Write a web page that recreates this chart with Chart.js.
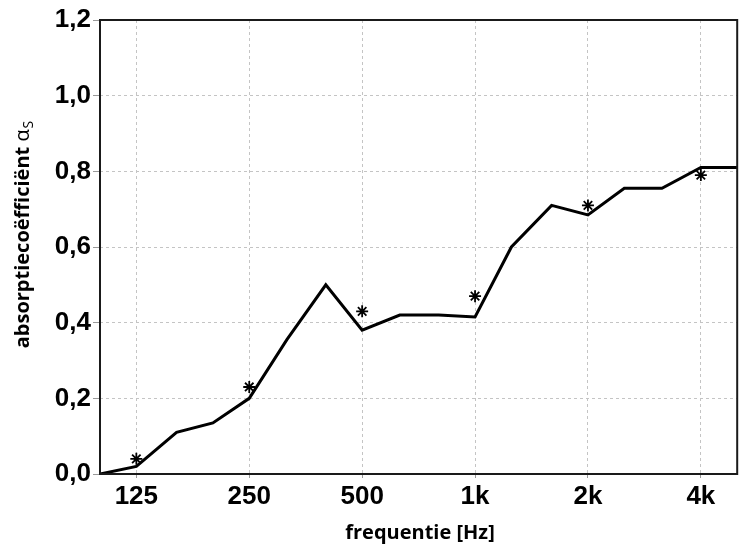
<!DOCTYPE html>
<html>
<head>
<meta charset="utf-8">
<script src="https://cdn.jsdelivr.net/npm/chart.js@4/dist/chart.umd.min.js"></script>
<style>
  html, body { margin: 0; padding: 0; background: #fff; }
  #wrap { width: 745px; height: 548px; }
</style>
</head>
<body>
<div id="wrap"><canvas id="c" width="745" height="548"></canvas></div>
<script>
// third-octave band centre frequencies (Hz) and measured absorption
const thirdOctaveFreqs = [100, 125, 160, 200, 250, 315, 400, 500, 630, 800, 1000, 1250, 1600, 2000, 2500, 3150, 4000, 5000];
const thirdOctaveAlpha = [0.00, 0.02, 0.11, 0.135, 0.20, 0.355, 0.50, 0.38, 0.42, 0.42, 0.415, 0.60, 0.71, 0.685, 0.755, 0.755, 0.81, 0.81];

// octave band values (asterisks)
const octaveFreqs = [125, 250, 500, 1000, 2000, 4000];
const octaveAlpha = [0.04, 0.23, 0.43, 0.47, 0.71, 0.79];

// x-axis tick positions and their labels
const xTickValues = [125, 250, 500, 1000, 2000, 4000];
const xTickLabels = ['125', '250', '500', '1k', '2k', '4k'];

const tickFont = { family: '"Liberation Sans Narrow", "Liberation Sans", Arial, sans-serif', size: 26, weight: 'bold' };
const titleFamily = '"Open Sans", "Noto Sans", sans-serif';
const titleSize = 20;

const framePlugin = {
  id: 'frameAndTitles',
  afterDatasetsDraw(chart) {
    const { ctx, chartArea: a } = chart;
    ctx.save();
    ctx.strokeStyle = '#1a1a1a';
    ctx.lineWidth = 2;
    ctx.strokeRect(a.left, a.top, a.right - a.left, a.bottom - a.top);
    ctx.restore();
  },
  afterDraw(chart) {
    const { ctx } = chart;
    // x-axis title
    ctx.save();
    ctx.fillStyle = '#000';
    ctx.font = 'bold ' + titleSize + 'px ' + titleFamily;
    ctx.textAlign = 'center';
    ctx.textBaseline = 'middle';
    ctx.fillText('frequentie [Hz]', 420, 533);
    ctx.restore();

    // y-axis title with subscript
    ctx.save();
    ctx.translate(22, 235);
    ctx.rotate(-Math.PI / 2);
    ctx.fillStyle = '#000';
    ctx.textBaseline = 'alphabetic';
    ctx.textAlign = 'left';
    const t1 = 'absorptiecoëfficiënt ';
    const t2 = 'α';
    const t3 = 'S';
    ctx.font = 'bold ' + titleSize + 'px ' + titleFamily;
    const w1 = ctx.measureText(t1).width;
    ctx.font = titleSize + 'px ' + titleFamily;
    const w2 = ctx.measureText(t2).width;
    ctx.font = '14px ' + titleFamily;
    const w3 = ctx.measureText(t3).width;
    let x = -(w1 + w2 + w3) / 2;
    const base = 7;
    ctx.font = 'bold ' + titleSize + 'px ' + titleFamily;
    ctx.fillText(t1, x, base); x += w1;
    ctx.font = titleSize + 'px ' + titleFamily;
    ctx.fillText(t2, x, base); x += w2;
    ctx.font = '14px ' + titleFamily;
    ctx.fillText(t3, x + 1, base + 4);
    ctx.restore();
  }
};

new Chart(document.getElementById('c'), {
  type: 'line',
  data: {
    datasets: [
      {
        label: 'tertsband',
        data: thirdOctaveFreqs.map((f, i) => ({ x: f, y: thirdOctaveAlpha[i] })),
        borderColor: '#000',
        borderWidth: 3,
        pointRadius: 0,
        tension: 0,
        fill: false,
        order: 2
      },
      {
        label: 'octaafband',
        type: 'scatter',
        data: octaveFreqs.map((f, i) => ({ x: f, y: octaveAlpha[i] })),
        pointStyle: 'star',
        pointRadius: 6,
        borderColor: '#000',
        backgroundColor: '#000',
        borderWidth: 1.8,
        showLine: false,
        order: 1
      }
    ]
  },
  options: {
    responsive: false,
    animation: false,
    devicePixelRatio: 1,
    layout: { padding: { top: 20, right: 4, left: 0, bottom: 0 } },
    plugins: {
      legend: { display: false },
      tooltip: { enabled: false }
    },
    scales: {
      x: {
        type: 'logarithmic',
        min: 100,
        max: 5000,
        afterBuildTicks: (scale) => {
          scale.ticks = xTickValues.map(v => ({ value: v }));
        },
        afterFit: (scale) => { scale.height = 74; },
        ticks: {
          autoSkip: false,
          maxRotation: 0,
          color: '#000',
          font: tickFont,
          padding: 3,
          callback: (value) => {
            const i = xTickValues.indexOf(value);
            return i >= 0 ? xTickLabels[i] : '';
          }
        },
        grid: {
          color: '#c4c4c4',
          lineWidth: 1,
          drawTicks: true,
          tickLength: 4,
          tickColor: '#999'
        },
        border: { display: false, dash: [3, 3] }
      },
      y: {
        min: 0,
        max: 1.2,
        afterFit: (scale) => { scale.width = 100; },
        ticks: {
          stepSize: 0.2,
          color: '#000',
          font: tickFont,
          padding: 2,
          callback: (v) => v.toFixed(1).replace('.', ',')
        },
        grid: {
          color: '#c4c4c4',
          lineWidth: 1,
          drawTicks: true,
          tickLength: 7,
          tickColor: '#999'
        },
        border: { display: false, dash: [3, 3] }
      }
    }
  },
  plugins: [framePlugin]
});
</script>
</body>
</html>
